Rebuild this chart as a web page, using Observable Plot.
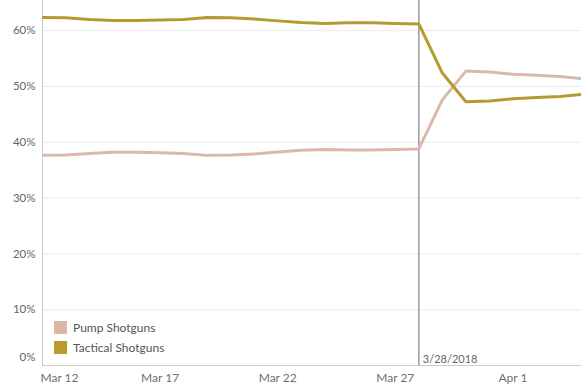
<!DOCTYPE html>
<html>
<head>
<meta charset="utf-8">
<script src="https://cdn.jsdelivr.net/npm/d3@7"></script>
<script src="https://cdn.jsdelivr.net/npm/@observablehq/plot@0.6"></script>
<style>
  html, body { margin: 0; padding: 0; background: #fff; }
  #chart { position: relative; width: 581px; height: 391px; font-family: Lato, "Open Sans", sans-serif; }
  #legend { position: absolute; left: 54px; top: 317px; font-size: 12px; color: #555; }
  .row { display: flex; align-items: center; height: 20px; }
  .sw { width: 13px; height: 13px; margin-right: 6px; }
</style>
</head>
<body>
<div id="chart"></div>
<script>
// Dates (daily)
const dates = [
  "2018-03-12","2018-03-13","2018-03-14","2018-03-15","2018-03-16","2018-03-17",
  "2018-03-18","2018-03-19","2018-03-20","2018-03-21","2018-03-22","2018-03-23",
  "2018-03-24","2018-03-25","2018-03-26","2018-03-27","2018-03-28","2018-03-29",
  "2018-03-30","2018-03-31","2018-04-01","2018-04-02","2018-04-03","2018-04-04"
];
// Share (%) by series
const tactical = [62.35, 62.3, 62.0, 61.8, 61.8, 61.9, 62.0, 62.35, 62.3, 62.1, 61.75, 61.45,
                  61.3, 61.4, 61.4, 61.3, 61.2, 52.4, 47.25, 47.4, 47.8, 48.0, 48.2, 48.6];
const pump     = [37.65, 37.7, 38.0, 38.2, 38.2, 38.1, 38.0, 37.65, 37.7, 37.9, 38.25, 38.55,
                  38.7, 38.6, 38.6, 38.7, 38.8, 47.6, 52.75, 52.6, 52.2, 52.0, 51.8, 51.4];
const seriesNames = ["Pump Shotguns", "Tactical Shotguns"];
const seriesColors = ["#d9b9a9", "#b49b30"];
const legendColors = ["#dbb6a5", "#bb9b2e"];
// Axis ticks
const xTicks = ["2018-03-12","2018-03-17","2018-03-22","2018-03-27","2018-04-01"];
const yTicks = [0, 10, 20, 30, 40, 50, 60];
// Reference line
const refDates = ["2018-03-28"];
const refLabels = ["3/28/2018"];

const rows = [];
dates.forEach((d, i) => {
  rows.push({date: new Date(d), series: seriesNames[0], value: pump[i]});
  rows.push({date: new Date(d), series: seriesNames[1], value: tactical[i]});
});
const refs = refDates.map((d, i) => ({date: new Date(d), label: refLabels[i]}));
const xT = xTicks.map(d => new Date(d));

const chart = Plot.plot({
  width: 581,
  height: 391,
  marginLeft: 42,
  marginRight: 0,
  marginTop: 0,
  marginBottom: 26,
  style: {fontFamily: "Lato, 'Open Sans', sans-serif", background: "#fff", overflow: "visible"},
  x: {type: "utc", domain: [new Date("2018-03-12"), new Date("2018-04-03T22:00Z")], label: null},
  y: {domain: [0, 65.4], label: null},
  color: {domain: seriesNames, range: seriesColors},
  marks: [
    Plot.gridY(yTicks.filter(t => t > 0), {stroke: "#ebebeb", strokeOpacity: 1}),
    Plot.frame({anchor: "left", stroke: "#cccccc"}),
    Plot.frame({anchor: "bottom", stroke: "#cccccc"}),
    Plot.axisY(yTicks.filter(t => t > 0), {label: null, tickSize: 0, tickPadding: 7, tickFormat: d => d + "%", fontSize: 11.5, color: "#666"}),
    Plot.axisY([0], {label: null, tickSize: 0, tickPadding: 7, tickFormat: d => d + "%", fontSize: 11.5, color: "#666", dy: -8}),
    Plot.axisX(xT.slice(1), {label: null, tickSize: 0, tickPadding: 8, tickFormat: d3.utcFormat("%b %-d"), fontSize: 12, color: "#6f6f6f"}),
    Plot.axisX(xT.slice(0, 1), {label: null, tickSize: 0, tickPadding: 8, tickFormat: d3.utcFormat("%b %-d"), fontSize: 12, color: "#6f6f6f", textAnchor: "start", dx: -2}),
    Plot.ruleX(refs, {x: "date", stroke: "#9b9b9b", strokeWidth: 1.5}),
    Plot.text(refs, {x: "date", text: "label", frameAnchor: "bottom", lineAnchor: "bottom", textAnchor: "start", dx: 4, dy: -3, fontSize: 11, fill: "#666"}),
    Plot.line(rows, {x: "date", y: "value", z: "series", stroke: "series", strokeWidth: 3, clip: true})
  ]
});
document.getElementById("chart").appendChild(chart);

const legend = document.createElement("div");
legend.id = "legend";
seriesNames.forEach((name, i) => {
  const row = document.createElement("div");
  row.className = "row";
  const sw = document.createElement("div");
  sw.className = "sw";
  sw.style.background = legendColors[i];
  const t = document.createElement("span");
  t.textContent = name;
  row.appendChild(sw);
  row.appendChild(t);
  legend.appendChild(row);
});
document.getElementById("chart").appendChild(legend);
</script>
</body>
</html>
